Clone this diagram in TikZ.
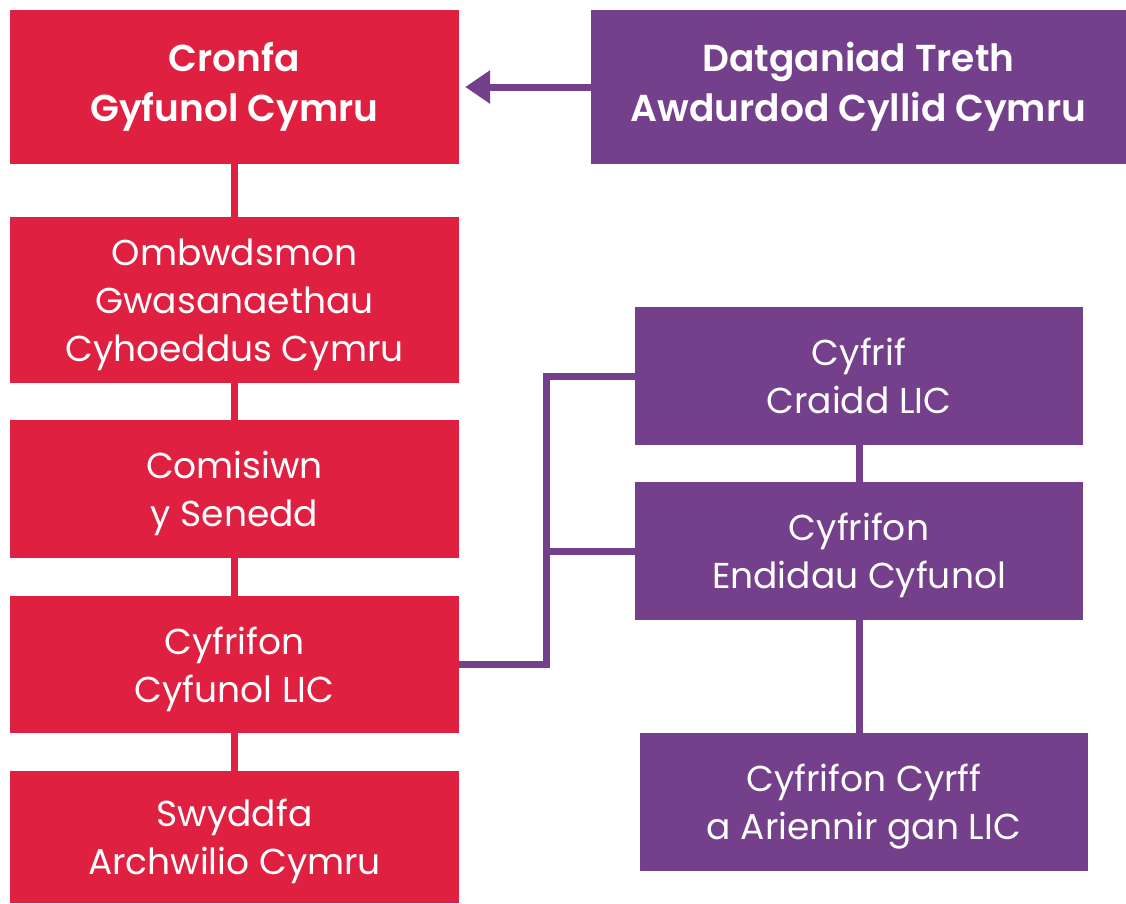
\documentclass[tikz,border=0pt]{standalone}
\usepackage{fontspec}
\setmainfont{Poppins}[BoldFont={Poppins SemiBold}]
\usetikzlibrary{arrows.meta}
\definecolor{wred}{RGB}{224,32,65}
\definecolor{wpurple}{RGB}{116,64,140}

\begin{document}
\begin{tikzpicture}[x=1pt,y=-1pt,
		box/.style={text=white,align=center,inner sep=0pt,minimum width=448pt,text depth=0pt,font=\fontsize{36}{48}\selectfont},
		headbox/.style={text depth={},minimum height=154pt,font=\fontsize{37.5}{50}\selectfont\bfseries},
		redbox/.style={box,fill=wred,minimum width=449pt},
		purplebox/.style={box,fill=wpurple},
		redline/.style={draw=wred,line width=7pt},
		purpleline/.style={draw=wpurple,line width=7pt}]
			\useasboundingbox (0,0) rectangle (1126,903);
			
			\node[redbox,headbox] (cronfa) at (234.5,87) {Cronfa\\Gyfunol Cymru};
			\node[redbox,minimum height=166pt] (ombwdsmon) at (234.5,300) {Ombwdsmon\\Gwasanaethau\\Cyhoeddus Cymru};
			\node[redbox,minimum height=138pt] (comisiwn) at (234.5,489) {Comisiwn\\y Senedd};
			\node[redbox,minimum height=137pt] (cyfunol) at (234.5,664.5) {Cyfrifon\\Cyfunol LIC};
			\node[redbox,minimum height=132pt] (swyddfa) at (234.5,837) {Swyddfa\\Archwilio Cymru};
			
			\node[purplebox,headbox,minimum width=535pt] (datganiad) at (858.5,87) {Datganiad Treth\\Awdurdod Cyllid Cymru};
			\node[purplebox,minimum height=138pt] (craidd) at (859,376) {Cyfrif\\Craidd LIC};
			\node[purplebox,minimum height=138pt] (endidau) at (859,551) {Cyfrifon\\Endidau Cyfunol};
			\node[purplebox,minimum height=138pt] (cyrff) at (864,802) {Cyfrifon Cyrff\\a Ariennir gan LIC};
			
			\draw[redline] (cronfa) -- (ombwdsmon);
			\draw[redline] (ombwdsmon) -- (comisiwn);
			\draw[redline] (comisiwn) -- (cyfunol);
			\draw[redline] (cyfunol) -- (swyddfa);
			
			\draw[purpleline,-{Triangle[width=32pt,length=25pt]},shorten >=6pt] (datganiad.west) -- (cronfa.east);
			\draw[purpleline] (cyfunol.east) -- (546,664.5) |- (craidd.west);
			\draw[purpleline] (546,551) -- (endidau.west);
			\draw[purpleline] (859.5,445) -- (endidau.north -| 859.5,0);
			\draw[purpleline] (endidau.south -| 859.5,0) -- (cyrff.north -| 859.5,0);
		\end{tikzpicture}
\end{document}
